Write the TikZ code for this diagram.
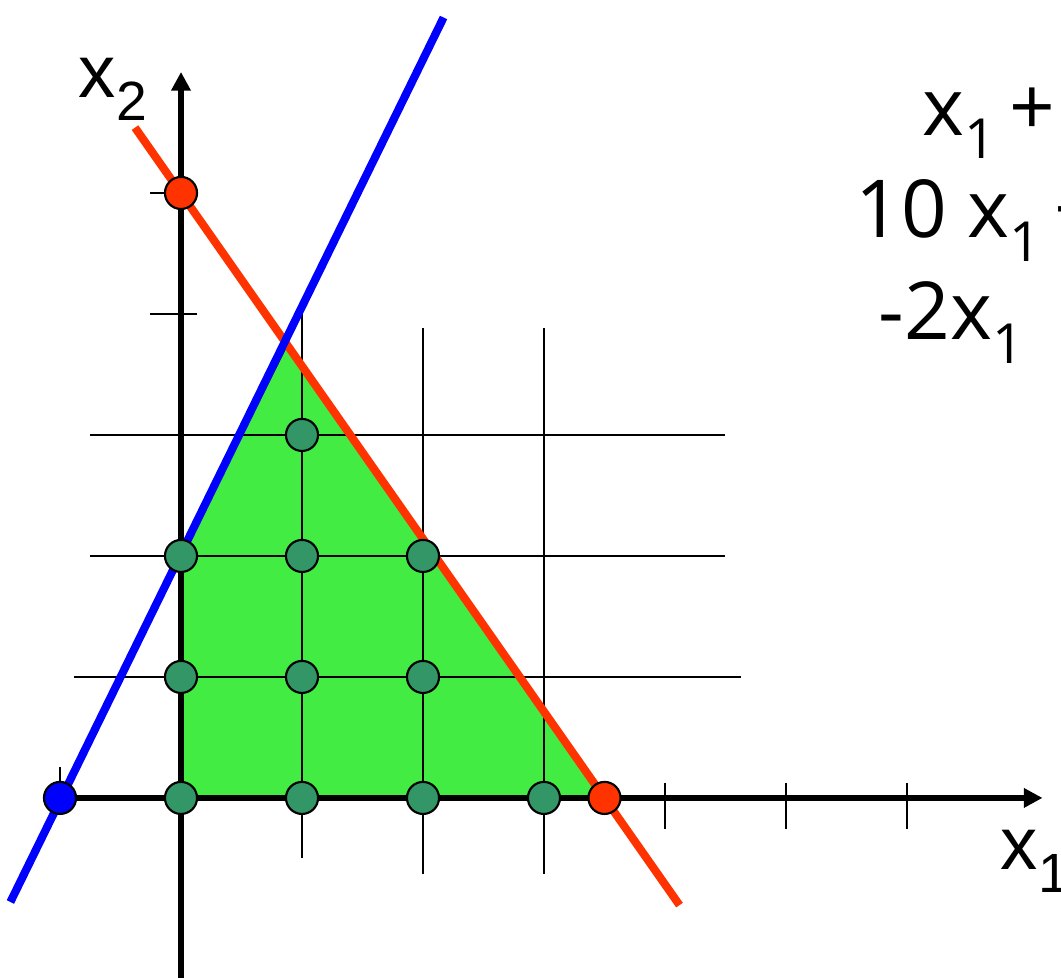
\documentclass[tikz,border=0pt]{standalone}
\usepackage{fontspec}
\setmainfont{Liberation Sans}
\newfontfamily\eqfont{Open Sans}
\usepackage{tikz}
\usetikzlibrary{arrows.meta,positioning}
\definecolor{feasgreen}{RGB}{66,236,66}
\definecolor{dotgreen}{RGB}{51,150,102}
\definecolor{redline}{RGB}{255,51,0}
\newcommand{\sbs}[1]{\raisebox{-0.3em}{\fontsize{13}{13}\selectfont #1}}

\begin{document}
\begin{tikzpicture}[
    >={Triangle[length=4.4pt,width=4.4pt]},
    axis/.style={line width=1.3pt},
    gridline/.style={line width=0.6pt},
    cline/.style={line width=1.9pt},
    ipt/.style={circle, draw, line width=0.5pt, fill=dotgreen, minimum size=2.65mm, inner sep=0pt},
    lbl/.style={inner sep=0pt, anchor=base west, font=\fontsize{17.5}{20}\selectfont},
    eq/.style={inner sep=0pt, anchor=base west, font=\eqfont\fontsize{18.8}{22}\selectfont}
]
  \useasboundingbox (-1.496,-1.488) rectangle (7.273,6.595);

  % feasible region
  \fill[feasgreen] (0,0) -- (0,2) -- (0.875,3.75) -- (3.5,0) -- cycle;
  \draw[gridline] (0,2) -- (0.875,3.75);

  % grid
  \draw[gridline] (1,-0.5) -- (1,4.0);
  \draw[gridline] (2,-0.63) -- (2,3.88);
  \draw[gridline] (3,-0.63) -- (3,3.88);
  \draw[gridline] (-0.884,1) -- (4.628,1);
  \draw[gridline] (-0.752,2) -- (4.496,2);
  \draw[gridline] (-0.752,3) -- (4.496,3);

  % ticks
  \draw[gridline] (-1,0) -- (-1,0.256);
  \draw[gridline] (4,0.125) -- (4,-0.256);
  \draw[gridline] (5,0.125) -- (5,-0.256);
  \draw[gridline] (6,0.125) -- (6,-0.256);
  \draw[gridline] (-0.256,4) -- (0.132,4);
  \draw[gridline] (-0.256,5) -- (0.132,5);

  % axes
  \coordinate (O) at (0,0);
  \coordinate (x1end) at (7.12,0);
  \coordinate (x2end) at (0,6.0);
  \draw[axis,->] (-1,0) -- (x1end);
  \draw[axis,->] (0,-1.5) -- (x2end);

  % constraints
  \coordinate (ra) at (-0.38,5.54);
  \coordinate (rb) at (4.12,-0.886);
  \coordinate (ba) at (-1.41,-0.86);
  \coordinate (bb) at (2.17,6.45);
  \draw[cline, redline] (ra) -- (rb);
  \draw[cline, blue] (ba) -- (bb);

  % integer points
  \node[ipt] (p00) at (0,0) {};
  \node[ipt] (p10) at (1,0) {};
  \node[ipt] (p20) at (2,0) {};
  \node[ipt] (p30) at (3,0) {};
  \node[ipt] (p01) at (0,1) {};
  \node[ipt] (p11) at (1,1) {};
  \node[ipt] (p21) at (2,1) {};
  \node[ipt] (p02) at (0,2) {};
  \node[ipt] (p12) at (1,2) {};
  \node[ipt] (p22) at (2,2) {};
  \node[ipt] (p13) at (1,3) {};

  % intercepts
  \node[ipt, fill=redline] (r05) at (0,5) {};
  \node[ipt, fill=redline] (r350) at (3.5,0) {};
  \node[ipt, fill=blue] (bm10) at (-1,0) {};

  % labels
  \node[lbl] (lx2) at (-0.851,5.785) {x\sbs{2}};
  \node[lbl] (lx1) at (6.77,-0.595) {x\sbs{1}};
  \node[eq] (eqa) at (6.124,5.479) {x\sbs{1}\,+};
  \node[eq] (eqb) at (5.570,4.628) {10 x\sbs{1}\,+};
  \node[eq] (eqc) at (5.760,3.785) {-2x\sbs{1}};
\end{tikzpicture}
\end{document}
